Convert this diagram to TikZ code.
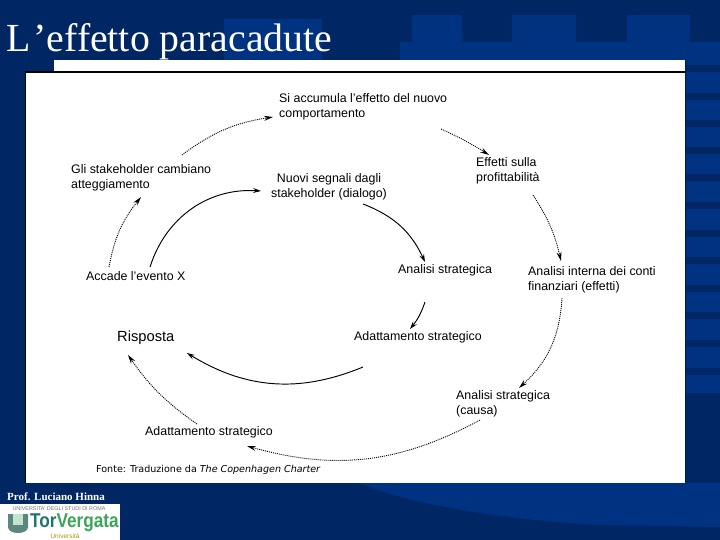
\documentclass[tikz,border=0pt]{standalone}
\usepackage{fontspec}
\setmainfont{Liberation Serif}
\setsansfont{Liberation Sans}
\newfontfamily\fontefont{DejaVu Sans}
\usetikzlibrary{arrows.meta}
\definecolor{NavyDark}{RGB}{0, 38, 100}
\definecolor{NavyLight}{RGB}{0, 50, 130}
\definecolor{TorTeal}{RGB}{30, 120, 105}
\definecolor{TorGreen}{RGB}{60, 165, 90}
\tikzset{
    lab/.style={anchor=west, inner sep=0pt, align=left, text=black, font=\sffamily\fontsize{12.4}{14.5}\selectfont},
    solidarrow/.style={black, line width=0.95pt, -{Stealth[length=8pt, width=5pt, inset=3pt]}},
    dotarrow/.style={black, line width=0.9pt, dash pattern=on 1pt off 1pt, -{Stealth[length=9pt, width=5pt, inset=3pt]}},
}
\begin{document}
\begin{tikzpicture}[x=1pt, y=-1pt]
        \useasboundingbox (0,0) rectangle (720,540);
        % background
        \fill[NavyDark] (0,0) rectangle (720,540);
        \fill[NavyLight] (224,19) rectangle (322,60);
        \foreach \xa/\xb in {412/462, 512/576, 627/690} {
            \fill[NavyLight] (\xa,15) rectangle (\xb,42);
        }
        \fill[NavyLight] (400,42) rectangle (720,60);
        \fill[NavyLight] (686,42) rectangle (720,393);
        \foreach \y in {65, 93, 120, 147, 174, 202, 230, 257, 285, 312, 340, 368} {
            \fill[NavyDark] (686,\y) rectangle (720,\y+7);
        }
        \fill[NavyLight] (359,483) .. controls (400,500) and (480,518) .. (598,525) -- (720,527) -- (720,483) -- cycle;
        % panel
        \fill[white] (54,60) rectangle (685,72);
        \fill[black] (25,71) rectangle (685,73);
        \fill[black] (25,71) rectangle (26,483);
        \fill[white] (26,73) rectangle (685,483);
        \fill[NavyDark!70!black] (685,60) rectangle (686,483);
        % title and footer
        \node[anchor=base west, inner sep=0pt, text=white, font=\fontsize{39.8}{41}\selectfont] (title) at (6,52) {L\kern3pt’effetto paracadute};
        \node[anchor=base west, inner sep=0pt, text=white, font=\bfseries\fontsize{11}{12}\selectfont] (prof) at (7,500) {Prof. Luciano Hinna};
        % labels
        \node[lab] (accumula) at (279,107) {Si accumula l'effetto del nuovo\\comportamento};
        \node[lab] (gli) at (71,178) {Gli stakeholder cambiano\\atteggiamento};
        \node[lab, align=center, anchor=center] (segnali) at (329,187) {Nuovi segnali dagli\\stakeholder (dialogo)};
        \node[lab] (effetti) at (476,171) {Effetti sulla\\profittabilità};
        \node[lab] (evento) at (86,276) {Accade l'evento X};
        \node[lab] (strategica) at (398,270) {Analisi strategica};
        \node[lab] (interna) at (528,280) {Analisi interna dei conti\\finanziari (effetti)};
        \node[lab, font=\sffamily\fontsize{14.7}{16}\selectfont] (risposta) at (117,338) {Risposta};
        \node[lab] (adatta_a) at (354,337) {Adattamento strategico};
        \node[lab] (causa) at (456,404) {Analisi strategica\\(causa)};
        \node[lab] (adatta_b) at (145,432) {Adattamento strategico};
        \node[lab, font=\fontefont\fontsize{9.55}{11}\selectfont] (fonte) at (96,470) {Fonte: Traduzione da \textit{The Copenhagen Charter}};
        % free ends of the connectors
        \coordinate (d1a) at (182,155);  \coordinate (d1b) at (273,117);
        \coordinate (d2a) at (441,129);  \coordinate (d2b) at (489,155);
        \coordinate (d3a) at (533,195);  \coordinate (d3b) at (561,261);
        \coordinate (d4a) at (562,298);  \coordinate (d4b) at (519,388);
        \coordinate (d5a) at (480,420);  \coordinate (d5b) at (247,446);
        \coordinate (d6a) at (197,424);  \coordinate (d6b) at (128,355);
        \coordinate (d7a) at (109,267);  \coordinate (d7b) at (141,197);
        \coordinate (s1a) at (150,267);  \coordinate (s1b) at (261,191);
        \coordinate (s2a) at (363,204);  \coordinate (s2b) at (425,262);
        \coordinate (s3a) at (425,302);  \coordinate (s3b) at (410,329);
        \coordinate (s4a) at (363,367);  \coordinate (s4b) at (187,353);
        % connectors
        \draw[dotarrow] (d1a) to[bend left=14] (d1b);
        \draw[dotarrow] (d2a) to[bend left=4] (d2b);
        \draw[dotarrow] (d3a) to[bend left=10] (d3b);
        \draw[dotarrow] (d4a) to[bend left=22] (d4b);
        \draw[dotarrow] (d5a) to[bend left=22] (d5b);
        \draw[dotarrow] (d6a) to[bend left=10] (d6b);
        \draw[dotarrow] (d7a) to[bend left=14] (d7b);
        \draw[solidarrow] (s1a) to[bend left=38] (s1b);
        \draw[solidarrow] (s2a) to[bend left=22] (s2b);
        \draw[solidarrow] (s3a) to[bend left=10] (s3b);
        \draw[solidarrow] (s4a) to[bend left=27] (s4b);
        % logo
        \fill[white] (0,504) rectangle (120,540);
        \node[inner sep=0pt, text=black!55, font=\sffamily\fontsize{5.4}{6}\selectfont] (unirm) at (59,508.5) {UNIVERSITA' DEGLI STUDI DI ROMA};
        \fill[black!30!TorTeal!70] (8,514) -- (28,514) -- (28,527) .. controls (28,535) and (8,535) .. (8,527) -- cycle;
        \fill[white!70!TorGreen] (13,514) rectangle (23,525);
        \node[anchor=west, inner sep=0pt, xscale=0.86, font=\sffamily\bfseries\fontsize{20}{21}\selectfont] (torvergata) at (30,523) {\textcolor{TorTeal}{Tor}\textcolor{TorGreen}{Vergata}};
        \node[inner sep=0pt, text=olive!80!yellow, font=\sffamily\fontsize{6.5}{7}\selectfont] (uni) at (65,536) {Università};
    \end{tikzpicture}
\end{document}
